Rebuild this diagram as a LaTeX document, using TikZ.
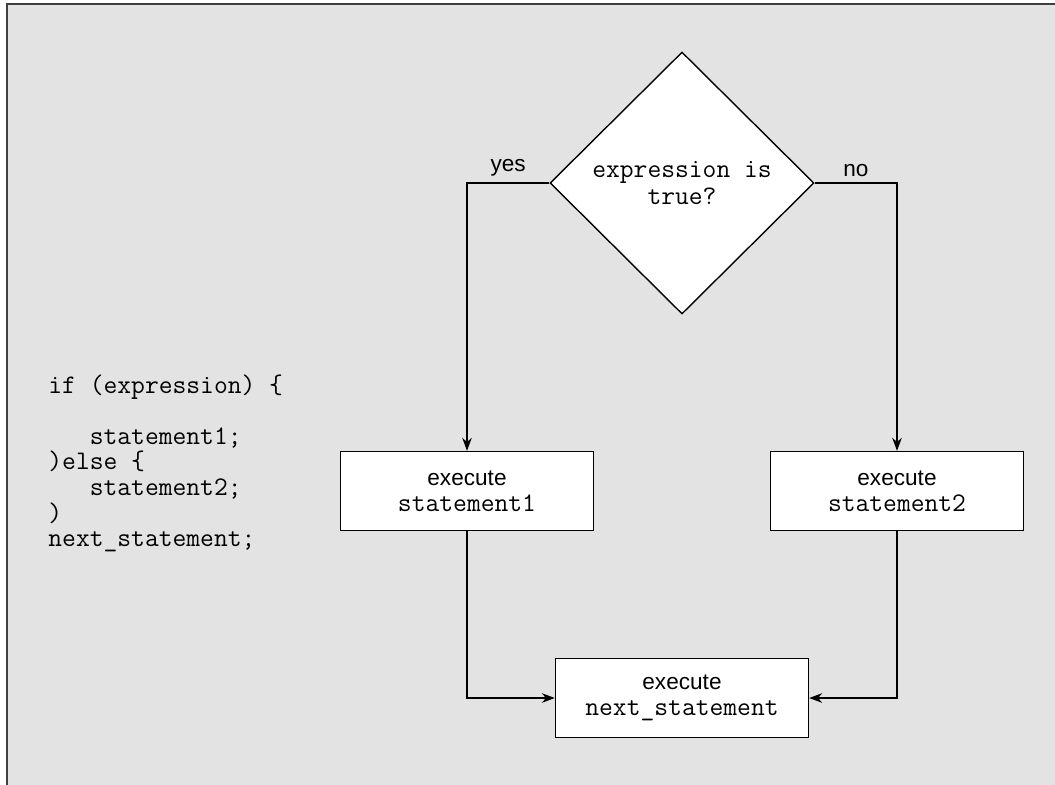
\documentclass[tikz,border=0pt]{standalone}
\usepackage{fontspec}
\setmainfont{Liberation Sans}
\usetikzlibrary{shapes.geometric,arrows.meta}

\definecolor{panelgray}{HTML}{E3E3E3}
\definecolor{framegray}{HTML}{404040}
\newcommand{\stmt}[1]{{\ttfamily\fontsize{13.4}{13}\selectfont #1}}

\begin{document}
\begin{tikzpicture}[x=0.5pt, y=-0.5pt,
  box/.style={draw, rectangle, fill=white, line width=.7pt,
    minimum width=126.5pt, minimum height=39.5pt, align=center,
    font=\fontsize{11.3}{13}\selectfont},
  decision/.style={draw, diamond, fill=white, line width=.7pt, aspect=1,
    minimum width=132pt, minimum height=131pt, inner sep=0pt,
    align=center, font=\ttfamily\fontsize{13.4}{13.5}\selectfont},
  flow/.style={arrows={-Stealth[length=6.5pt, width=4.8pt]}, line width=.7pt},
  branch/.style={font=\fontsize{11.3}{13}\selectfont, inner sep=3pt},
  listing/.style={anchor=north west, align=left, inner sep=0pt,
    font=\ttfamily\fontsize{13.4}{12.8}\selectfont}]
\useasboundingbox (0,0) rectangle (1055,784);

% grey panel
\fill[panelgray] (7,4) rectangle (1060,790);
\draw[framegray, line width=1pt] (7,790) -- (7,4) -- (1060,4);

% source code
\node[listing] at (48,374) (source) {if (expression) \{\\[12.8pt]
\phantom{iii}statement1;\\
)else \{\\
\phantom{iii}statement2;\\
)\\
next\_statement;};

% flowchart
\node[decision] at (682,183) (cond) {expression is\\true?};
\node[box] at (467,491) (then) {execute\\\stmt{statement1}};
\node[box] at (897,491) (else) {execute\\\stmt{statement2}};
\node[box] at (682,698) (next) {execute\\\stmt{next\_statement}};

\draw[flow] (cond.west) -| node[branch, pos=.25, above] {yes} (then.north);
\draw[flow] (cond.east) -| node[branch, pos=.25, above] {no} (else.north);
\draw[flow] (then.south) |- (next.west);
\draw[flow] (else.south) |- (next.east);
\end{tikzpicture}
\end{document}
